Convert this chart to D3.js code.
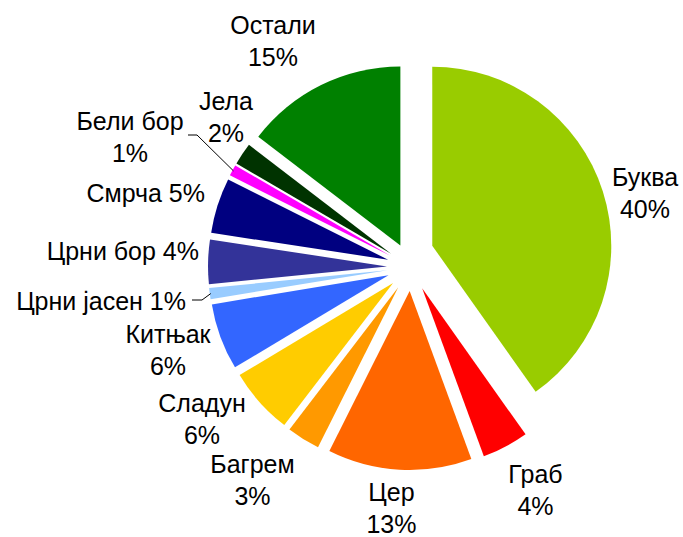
<!DOCTYPE html>
<html>
<head>
<meta charset="utf-8">
<script src="https://cdn.jsdelivr.net/npm/d3@7"></script>
<style>
  html, body { margin: 0; padding: 0; background: #fff; }
  svg { display: block; }
  .lbl { font-family: "Liberation Sans", Arial, sans-serif; font-size: 25px; fill: #000; }
</style>
</head>
<body>
<svg id="chart" width="683" height="537"></svg>
<script>
// ---- data ----
const categories = ["Буква", "Граб", "Цер", "Багрем", "Сладун", "Китњак", "Црни јасен", "Црни бор", "Смрча", "Бели бор", "Јела", "Остали"];
const shares     = [40.2, 4.2, 13.0, 3.0, 6.0, 6.0, 1.0, 4.0, 5.0, 1.0, 2.0, 14.6];
const colors     = ["#99CC00", "#FF0000", "#FF6600", "#FF9900", "#FFCC00", "#3366FF", "#99CCFF", "#333399", "#000080", "#FF00FF", "#003300", "#008000"];

// ---- layout / style ----
const center = { x: 411, y: 267 };
const radius = 179;
const explode = 24;
// extra manual displacement of individual slices (Буква sits higher)
const nudge = { "Буква": [-1.6, -14] };
// label anchors: x, first baseline y, anchor, two-line?
const labelLayout = {
  "Буква":      { x: 645,   y: 186,   anchor: "middle", two: true },
  "Граб":       { x: 535.5, y: 483,   anchor: "middle", two: true },
  "Цер":        { x: 391.5, y: 501,   anchor: "middle", two: true },
  "Багрем":     { x: 252.5, y: 473,   anchor: "middle", two: true },
  "Сладун":     { x: 202,   y: 412,   anchor: "middle", two: true },
  "Китњак":     { x: 168,   y: 343,   anchor: "middle", two: true },
  "Црни јасен": { x: 186,   y: 310,   anchor: "end",    two: false, leader: [[192, 300], [202, 300]] },
  "Црни бор":   { x: 199,   y: 260,   anchor: "end",    two: false },
  "Смрча":      { x: 205,   y: 202,   anchor: "end",    two: false },
  "Бели бор":   { x: 130,   y: 130,   anchor: "middle", two: true,  leader: [[188, 135], [197, 135]] },
  "Јела":       { x: 226,   y: 110,   anchor: "middle", two: true },
  "Остали":     { x: 273,   y: 33.5,  anchor: "middle", two: true }
};
const lineGap = 32;

const svg = d3.select("#chart");
const data = categories.map((c, i) => ({ name: c, value: shares[i], color: colors[i] }));
const pie = d3.pie().sort(null).value(d => d.value).startAngle(0).endAngle(2 * Math.PI);
const arcs = pie(data);
const arc = d3.arc().innerRadius(0).outerRadius(radius);

function sliceOrigin(a) {
  const mid = (a.startAngle + a.endAngle) / 2;
  const n = nudge[a.data.name] || [0, 0];
  return [center.x + explode * Math.sin(mid) + n[0], center.y - explode * Math.cos(mid) + n[1]];
}

const g = svg.append("g");
g.selectAll("path.slice")
  .data(arcs)
  .enter().append("path")
  .attr("class", "slice")
  .attr("d", arc)
  .attr("fill", d => d.data.color)
  .attr("transform", d => { const o = sliceOrigin(d); return `translate(${o[0]},${o[1]})`; });

// leader lines
arcs.forEach(a => {
  const L = labelLayout[a.data.name];
  if (!L.leader) return;
  const o = sliceOrigin(a);
  const mid = (a.startAngle + a.endAngle) / 2;
  const end = [o[0] + (radius - 1) * Math.sin(mid), o[1] - (radius - 1) * Math.cos(mid)];
  const pts = L.leader.concat([end]);
  svg.append("path")
    .attr("d", d3.line()(pts))
    .attr("fill", "none")
    .attr("stroke", "#000")
    .attr("stroke-width", 1);
});

// labels
arcs.forEach(a => {
  const L = labelLayout[a.data.name];
  const pct = Math.round(a.data.value) + "%";
  const t = svg.append("text")
    .attr("class", "lbl")
    .attr("text-anchor", L.anchor);
  if (L.two) {
    t.append("tspan").attr("x", L.x).attr("y", L.y).text(a.data.name);
    t.append("tspan").attr("x", L.x).attr("y", L.y + lineGap).text(pct);
  } else {
    t.attr("x", L.x).attr("y", L.y).text(a.data.name + " " + pct);
  }
});
</script>
</body>
</html>
